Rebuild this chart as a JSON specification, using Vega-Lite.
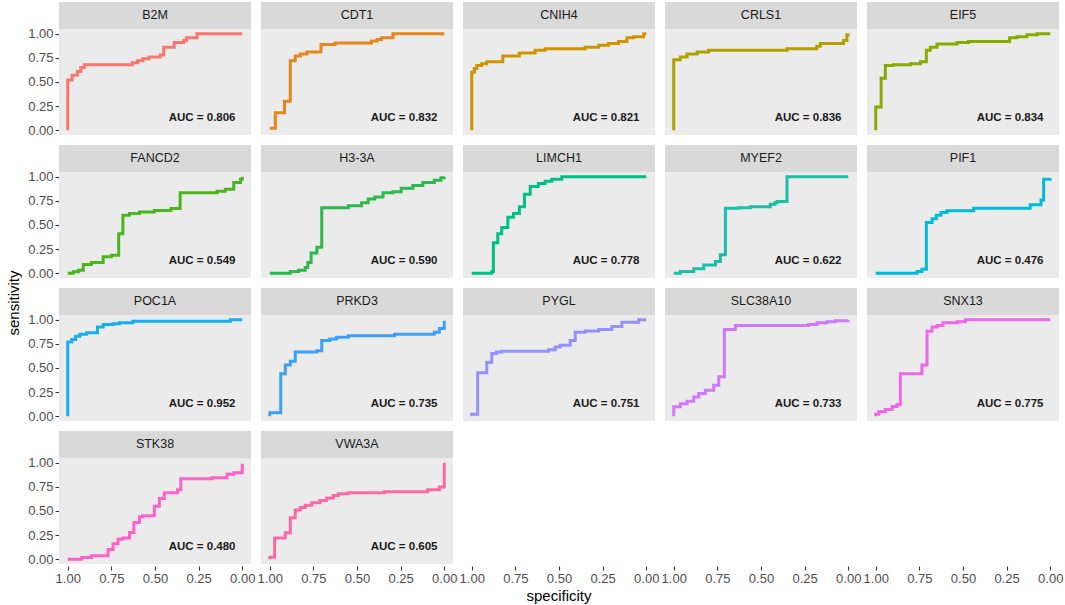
{
  "$schema": "https://vega.github.io/schema/vega-lite/v6.json",
  "background": "white",
  "padding": {"left": 6, "top": 2, "right": 4, "bottom": 2},
  "title": {"text": "sensitivity", "orient": "left", "anchor": "middle", "fontSize": 15, "fontWeight": "normal", "color": "black", "font": "Liberation Sans", "offset": 6},
  "data": {
    "values": [
      {"gene": "B2M", "auc": "AUC = 0.806"},
      {"gene": "CDT1", "auc": "AUC = 0.832"},
      {"gene": "CNIH4", "auc": "AUC = 0.821"},
      {"gene": "CRLS1", "auc": "AUC = 0.836"},
      {"gene": "EIF5", "auc": "AUC = 0.834"},
      {"gene": "FANCD2", "auc": "AUC = 0.549"},
      {"gene": "H3-3A", "auc": "AUC = 0.590"},
      {"gene": "LIMCH1", "auc": "AUC = 0.778"},
      {"gene": "MYEF2", "auc": "AUC = 0.622"},
      {"gene": "PIF1", "auc": "AUC = 0.476"},
      {"gene": "POC1A", "auc": "AUC = 0.952"},
      {"gene": "PRKD3", "auc": "AUC = 0.735"},
      {"gene": "PYGL", "auc": "AUC = 0.751"},
      {"gene": "SLC38A10", "auc": "AUC = 0.733"},
      {"gene": "SNX13", "auc": "AUC = 0.775"},
      {"gene": "STK38", "auc": "AUC = 0.480"},
      {"gene": "VWA3A", "auc": "AUC = 0.605"},

      {"gene": "B2M", "spec": 1, "sens": 0},
      {"gene": "B2M", "spec": 1, "sens": 0.52},
      {"gene": "B2M", "spec": 0.975, "sens": 0.57},
      {"gene": "B2M", "spec": 0.945, "sens": 0.61},
      {"gene": "B2M", "spec": 0.925, "sens": 0.65},
      {"gene": "B2M", "spec": 0.905, "sens": 0.68},
      {"gene": "B2M", "spec": 0.63, "sens": 0.70},
      {"gene": "B2M", "spec": 0.60, "sens": 0.72},
      {"gene": "B2M", "spec": 0.57, "sens": 0.74},
      {"gene": "B2M", "spec": 0.535, "sens": 0.76},
      {"gene": "B2M", "spec": 0.47, "sens": 0.78},
      {"gene": "B2M", "spec": 0.45, "sens": 0.86},
      {"gene": "B2M", "spec": 0.39, "sens": 0.91},
      {"gene": "B2M", "spec": 0.335, "sens": 0.93},
      {"gene": "B2M", "spec": 0.32, "sens": 0.96},
      {"gene": "B2M", "spec": 0.26, "sens": 1},
      {"gene": "B2M", "spec": 0, "sens": 1},

      {"gene": "CDT1", "spec": 1, "sens": 0.02},
      {"gene": "CDT1", "spec": 0.968, "sens": 0.18},
      {"gene": "CDT1", "spec": 0.915, "sens": 0.30},
      {"gene": "CDT1", "spec": 0.882, "sens": 0.72},
      {"gene": "CDT1", "spec": 0.854, "sens": 0.77},
      {"gene": "CDT1", "spec": 0.825, "sens": 0.79},
      {"gene": "CDT1", "spec": 0.787, "sens": 0.81},
      {"gene": "CDT1", "spec": 0.706, "sens": 0.89},
      {"gene": "CDT1", "spec": 0.626, "sens": 0.905},
      {"gene": "CDT1", "spec": 0.417, "sens": 0.925},
      {"gene": "CDT1", "spec": 0.385, "sens": 0.94},
      {"gene": "CDT1", "spec": 0.36, "sens": 0.96},
      {"gene": "CDT1", "spec": 0.294, "sens": 1},
      {"gene": "CDT1", "spec": 0, "sens": 1},

      {"gene": "CNIH4", "spec": 1, "sens": 0},
      {"gene": "CNIH4", "spec": 1, "sens": 0.60},
      {"gene": "CNIH4", "spec": 0.985, "sens": 0.64},
      {"gene": "CNIH4", "spec": 0.971, "sens": 0.67},
      {"gene": "CNIH4", "spec": 0.943, "sens": 0.69},
      {"gene": "CNIH4", "spec": 0.914, "sens": 0.71},
      {"gene": "CNIH4", "spec": 0.822, "sens": 0.77},
      {"gene": "CNIH4", "spec": 0.728, "sens": 0.80},
      {"gene": "CNIH4", "spec": 0.637, "sens": 0.83},
      {"gene": "CNIH4", "spec": 0.579, "sens": 0.845},
      {"gene": "CNIH4", "spec": 0.35, "sens": 0.86},
      {"gene": "CNIH4", "spec": 0.273, "sens": 0.88},
      {"gene": "CNIH4", "spec": 0.216, "sens": 0.90},
      {"gene": "CNIH4", "spec": 0.159, "sens": 0.92},
      {"gene": "CNIH4", "spec": 0.111, "sens": 0.96},
      {"gene": "CNIH4", "spec": 0.073, "sens": 0.97},
      {"gene": "CNIH4", "spec": 0.015, "sens": 1},
      {"gene": "CNIH4", "spec": 0, "sens": 1},

      {"gene": "CRLS1", "spec": 1, "sens": 0},
      {"gene": "CRLS1", "spec": 1, "sens": 0.73},
      {"gene": "CRLS1", "spec": 0.962, "sens": 0.76},
      {"gene": "CRLS1", "spec": 0.924, "sens": 0.79},
      {"gene": "CRLS1", "spec": 0.866, "sens": 0.81},
      {"gene": "CRLS1", "spec": 0.80, "sens": 0.83},
      {"gene": "CRLS1", "spec": 0.351, "sens": 0.845},
      {"gene": "CRLS1", "spec": 0.18, "sens": 0.87},
      {"gene": "CRLS1", "spec": 0.16, "sens": 0.90},
      {"gene": "CRLS1", "spec": 0.027, "sens": 0.93},
      {"gene": "CRLS1", "spec": 0.008, "sens": 0.99},
      {"gene": "CRLS1", "spec": 0, "sens": 1},

      {"gene": "EIF5", "spec": 1, "sens": 0},
      {"gene": "EIF5", "spec": 1, "sens": 0.24},
      {"gene": "EIF5", "spec": 0.969, "sens": 0.54},
      {"gene": "EIF5", "spec": 0.945, "sens": 0.67},
      {"gene": "EIF5", "spec": 0.90, "sens": 0.68},
      {"gene": "EIF5", "spec": 0.80, "sens": 0.69},
      {"gene": "EIF5", "spec": 0.744, "sens": 0.71},
      {"gene": "EIF5", "spec": 0.71, "sens": 0.83},
      {"gene": "EIF5", "spec": 0.687, "sens": 0.86},
      {"gene": "EIF5", "spec": 0.649, "sens": 0.895},
      {"gene": "EIF5", "spec": 0.534, "sens": 0.91},
      {"gene": "EIF5", "spec": 0.468, "sens": 0.92},
      {"gene": "EIF5", "spec": 0.233, "sens": 0.96},
      {"gene": "EIF5", "spec": 0.191, "sens": 0.97},
      {"gene": "EIF5", "spec": 0.134, "sens": 0.99},
      {"gene": "EIF5", "spec": 0.076, "sens": 1},
      {"gene": "EIF5", "spec": 0, "sens": 1},

      {"gene": "FANCD2", "spec": 1, "sens": 0},
      {"gene": "FANCD2", "spec": 0.968, "sens": 0.014},
      {"gene": "FANCD2", "spec": 0.939, "sens": 0.03},
      {"gene": "FANCD2", "spec": 0.911, "sens": 0.09},
      {"gene": "FANCD2", "spec": 0.864, "sens": 0.11},
      {"gene": "FANCD2", "spec": 0.797, "sens": 0.17},
      {"gene": "FANCD2", "spec": 0.75, "sens": 0.185},
      {"gene": "FANCD2", "spec": 0.708, "sens": 0.41},
      {"gene": "FANCD2", "spec": 0.684, "sens": 0.60},
      {"gene": "FANCD2", "spec": 0.646, "sens": 0.62},
      {"gene": "FANCD2", "spec": 0.589, "sens": 0.635},
      {"gene": "FANCD2", "spec": 0.504, "sens": 0.65},
      {"gene": "FANCD2", "spec": 0.409, "sens": 0.67},
      {"gene": "FANCD2", "spec": 0.356, "sens": 0.835},
      {"gene": "FANCD2", "spec": 0.144, "sens": 0.85},
      {"gene": "FANCD2", "spec": 0.097, "sens": 0.87},
      {"gene": "FANCD2", "spec": 0.049, "sens": 0.94},
      {"gene": "FANCD2", "spec": 0.01, "sens": 0.975},
      {"gene": "FANCD2", "spec": 0, "sens": 1},

      {"gene": "H3-3A", "spec": 1, "sens": 0},
      {"gene": "H3-3A", "spec": 0.882, "sens": 0.017},
      {"gene": "H3-3A", "spec": 0.835, "sens": 0.03},
      {"gene": "H3-3A", "spec": 0.797, "sens": 0.06},
      {"gene": "H3-3A", "spec": 0.782, "sens": 0.11},
      {"gene": "H3-3A", "spec": 0.763, "sens": 0.21},
      {"gene": "H3-3A", "spec": 0.73, "sens": 0.27},
      {"gene": "H3-3A", "spec": 0.702, "sens": 0.68},
      {"gene": "H3-3A", "spec": 0.55, "sens": 0.70},
      {"gene": "H3-3A", "spec": 0.474, "sens": 0.73},
      {"gene": "H3-3A", "spec": 0.436, "sens": 0.77},
      {"gene": "H3-3A", "spec": 0.398, "sens": 0.79},
      {"gene": "H3-3A", "spec": 0.351, "sens": 0.835},
      {"gene": "H3-3A", "spec": 0.294, "sens": 0.845},
      {"gene": "H3-3A", "spec": 0.247, "sens": 0.88},
      {"gene": "H3-3A", "spec": 0.18, "sens": 0.91},
      {"gene": "H3-3A", "spec": 0.123, "sens": 0.94},
      {"gene": "H3-3A", "spec": 0.057, "sens": 0.965},
      {"gene": "H3-3A", "spec": 0.019, "sens": 0.99},
      {"gene": "H3-3A", "spec": 0, "sens": 1},

      {"gene": "LIMCH1", "spec": 1, "sens": 0},
      {"gene": "LIMCH1", "spec": 0.885, "sens": 0.017},
      {"gene": "LIMCH1", "spec": 0.876, "sens": 0.315},
      {"gene": "LIMCH1", "spec": 0.851, "sens": 0.41},
      {"gene": "LIMCH1", "spec": 0.828, "sens": 0.475},
      {"gene": "LIMCH1", "spec": 0.793, "sens": 0.58},
      {"gene": "LIMCH1", "spec": 0.761, "sens": 0.62},
      {"gene": "LIMCH1", "spec": 0.727, "sens": 0.69},
      {"gene": "LIMCH1", "spec": 0.698, "sens": 0.82},
      {"gene": "LIMCH1", "spec": 0.665, "sens": 0.90},
      {"gene": "LIMCH1", "spec": 0.618, "sens": 0.93},
      {"gene": "LIMCH1", "spec": 0.579, "sens": 0.955},
      {"gene": "LIMCH1", "spec": 0.541, "sens": 0.975},
      {"gene": "LIMCH1", "spec": 0.484, "sens": 1},
      {"gene": "LIMCH1", "spec": 0, "sens": 1},

      {"gene": "MYEF2", "spec": 1, "sens": 0},
      {"gene": "MYEF2", "spec": 0.962, "sens": 0.017},
      {"gene": "MYEF2", "spec": 0.885, "sens": 0.045},
      {"gene": "MYEF2", "spec": 0.828, "sens": 0.085},
      {"gene": "MYEF2", "spec": 0.761, "sens": 0.12},
      {"gene": "MYEF2", "spec": 0.733, "sens": 0.19},
      {"gene": "MYEF2", "spec": 0.704, "sens": 0.675},
      {"gene": "MYEF2", "spec": 0.63, "sens": 0.68},
      {"gene": "MYEF2", "spec": 0.561, "sens": 0.69},
      {"gene": "MYEF2", "spec": 0.447, "sens": 0.715},
      {"gene": "MYEF2", "spec": 0.42, "sens": 0.73},
      {"gene": "MYEF2", "spec": 0.408, "sens": 0.745},
      {"gene": "MYEF2", "spec": 0.351, "sens": 1},
      {"gene": "MYEF2", "spec": 0, "sens": 1},

      {"gene": "PIF1", "spec": 1, "sens": 0},
      {"gene": "PIF1", "spec": 0.763, "sens": 0.017},
      {"gene": "PIF1", "spec": 0.735, "sens": 0.04},
      {"gene": "PIF1", "spec": 0.71, "sens": 0.527},
      {"gene": "PIF1", "spec": 0.677, "sens": 0.565},
      {"gene": "PIF1", "spec": 0.653, "sens": 0.60},
      {"gene": "PIF1", "spec": 0.626, "sens": 0.63},
      {"gene": "PIF1", "spec": 0.592, "sens": 0.647},
      {"gene": "PIF1", "spec": 0.439, "sens": 0.675},
      {"gene": "PIF1", "spec": 0.115, "sens": 0.71},
      {"gene": "PIF1", "spec": 0.053, "sens": 0.76},
      {"gene": "PIF1", "spec": 0.038, "sens": 0.975},
      {"gene": "PIF1", "spec": 0, "sens": 0.985},

      {"gene": "POC1A", "spec": 1, "sens": 0},
      {"gene": "POC1A", "spec": 1, "sens": 0.77},
      {"gene": "POC1A", "spec": 0.977, "sens": 0.795},
      {"gene": "POC1A", "spec": 0.955, "sens": 0.83},
      {"gene": "POC1A", "spec": 0.93, "sens": 0.85},
      {"gene": "POC1A", "spec": 0.892, "sens": 0.865},
      {"gene": "POC1A", "spec": 0.83, "sens": 0.925},
      {"gene": "POC1A", "spec": 0.797, "sens": 0.95},
      {"gene": "POC1A", "spec": 0.74, "sens": 0.96},
      {"gene": "POC1A", "spec": 0.703, "sens": 0.97},
      {"gene": "POC1A", "spec": 0.627, "sens": 0.985},
      {"gene": "POC1A", "spec": 0.068, "sens": 1},
      {"gene": "POC1A", "spec": 0, "sens": 1},

      {"gene": "PRKD3", "spec": 1, "sens": 0},
      {"gene": "PRKD3", "spec": 1, "sens": 0.035},
      {"gene": "PRKD3", "spec": 0.937, "sens": 0.44},
      {"gene": "PRKD3", "spec": 0.911, "sens": 0.53},
      {"gene": "PRKD3", "spec": 0.882, "sens": 0.57},
      {"gene": "PRKD3", "spec": 0.854, "sens": 0.665},
      {"gene": "PRKD3", "spec": 0.73, "sens": 0.68},
      {"gene": "PRKD3", "spec": 0.702, "sens": 0.785},
      {"gene": "PRKD3", "spec": 0.655, "sens": 0.80},
      {"gene": "PRKD3", "spec": 0.617, "sens": 0.82},
      {"gene": "PRKD3", "spec": 0.55, "sens": 0.835},
      {"gene": "PRKD3", "spec": 0.285, "sens": 0.85},
      {"gene": "PRKD3", "spec": 0.057, "sens": 0.87},
      {"gene": "PRKD3", "spec": 0.028, "sens": 0.91},
      {"gene": "PRKD3", "spec": 0, "sens": 0.99},

      {"gene": "PYGL", "spec": 1, "sens": 0},
      {"gene": "PYGL", "spec": 1, "sens": 0.02},
      {"gene": "PYGL", "spec": 0.966, "sens": 0.45},
      {"gene": "PYGL", "spec": 0.914, "sens": 0.56},
      {"gene": "PYGL", "spec": 0.885, "sens": 0.65},
      {"gene": "PYGL", "spec": 0.857, "sens": 0.665},
      {"gene": "PYGL", "spec": 0.828, "sens": 0.675},
      {"gene": "PYGL", "spec": 0.56, "sens": 0.69},
      {"gene": "PYGL", "spec": 0.522, "sens": 0.717},
      {"gene": "PYGL", "spec": 0.493, "sens": 0.735},
      {"gene": "PYGL", "spec": 0.436, "sens": 0.786},
      {"gene": "PYGL", "spec": 0.407, "sens": 0.87},
      {"gene": "PYGL", "spec": 0.35, "sens": 0.885},
      {"gene": "PYGL", "spec": 0.273, "sens": 0.90},
      {"gene": "PYGL", "spec": 0.197, "sens": 0.93},
      {"gene": "PYGL", "spec": 0.14, "sens": 0.975},
      {"gene": "PYGL", "spec": 0.044, "sens": 1},
      {"gene": "PYGL", "spec": 0, "sens": 1},

      {"gene": "SLC38A10", "spec": 1, "sens": 0},
      {"gene": "SLC38A10", "spec": 1, "sens": 0.097},
      {"gene": "SLC38A10", "spec": 0.962, "sens": 0.13},
      {"gene": "SLC38A10", "spec": 0.924, "sens": 0.155},
      {"gene": "SLC38A10", "spec": 0.885, "sens": 0.20},
      {"gene": "SLC38A10", "spec": 0.857, "sens": 0.235},
      {"gene": "SLC38A10", "spec": 0.819, "sens": 0.27},
      {"gene": "SLC38A10", "spec": 0.771, "sens": 0.32},
      {"gene": "SLC38A10", "spec": 0.742, "sens": 0.41},
      {"gene": "SLC38A10", "spec": 0.71, "sens": 0.90},
      {"gene": "SLC38A10", "spec": 0.647, "sens": 0.94},
      {"gene": "SLC38A10", "spec": 0.227, "sens": 0.95},
      {"gene": "SLC38A10", "spec": 0.179, "sens": 0.97},
      {"gene": "SLC38A10", "spec": 0.122, "sens": 0.98},
      {"gene": "SLC38A10", "spec": 0.074, "sens": 0.99},
      {"gene": "SLC38A10", "spec": 0, "sens": 0.995},

      {"gene": "SNX13", "spec": 1, "sens": 0},
      {"gene": "SNX13", "spec": 1, "sens": 0.02},
      {"gene": "SNX13", "spec": 0.983, "sens": 0.045},
      {"gene": "SNX13", "spec": 0.945, "sens": 0.07},
      {"gene": "SNX13", "spec": 0.906, "sens": 0.10},
      {"gene": "SNX13", "spec": 0.878, "sens": 0.12},
      {"gene": "SNX13", "spec": 0.859, "sens": 0.44},
      {"gene": "SNX13", "spec": 0.735, "sens": 0.53},
      {"gene": "SNX13", "spec": 0.706, "sens": 0.88},
      {"gene": "SNX13", "spec": 0.677, "sens": 0.925},
      {"gene": "SNX13", "spec": 0.649, "sens": 0.94},
      {"gene": "SNX13", "spec": 0.615, "sens": 0.97},
      {"gene": "SNX13", "spec": 0.534, "sens": 0.98},
      {"gene": "SNX13", "spec": 0.487, "sens": 1},
      {"gene": "SNX13", "spec": 0, "sens": 1},

      {"gene": "STK38", "spec": 1, "sens": 0},
      {"gene": "STK38", "spec": 0.92, "sens": 0.017},
      {"gene": "STK38", "spec": 0.864, "sens": 0.035},
      {"gene": "STK38", "spec": 0.769, "sens": 0.10},
      {"gene": "STK38", "spec": 0.74, "sens": 0.16},
      {"gene": "STK38", "spec": 0.712, "sens": 0.207},
      {"gene": "STK38", "spec": 0.684, "sens": 0.22},
      {"gene": "STK38", "spec": 0.646, "sens": 0.276},
      {"gene": "STK38", "spec": 0.621, "sens": 0.38},
      {"gene": "STK38", "spec": 0.589, "sens": 0.44},
      {"gene": "STK38", "spec": 0.57, "sens": 0.45},
      {"gene": "STK38", "spec": 0.504, "sens": 0.55},
      {"gene": "STK38", "spec": 0.475, "sens": 0.63},
      {"gene": "STK38", "spec": 0.447, "sens": 0.69},
      {"gene": "STK38", "spec": 0.371, "sens": 0.72},
      {"gene": "STK38", "spec": 0.352, "sens": 0.835},
      {"gene": "STK38", "spec": 0.172, "sens": 0.845},
      {"gene": "STK38", "spec": 0.087, "sens": 0.88},
      {"gene": "STK38", "spec": 0.049, "sens": 0.897},
      {"gene": "STK38", "spec": 0, "sens": 0.99},

      {"gene": "VWA3A", "spec": 1, "sens": 0},
      {"gene": "VWA3A", "spec": 1, "sens": 0.02},
      {"gene": "VWA3A", "spec": 0.972, "sens": 0.22},
      {"gene": "VWA3A", "spec": 0.911, "sens": 0.275},
      {"gene": "VWA3A", "spec": 0.882, "sens": 0.43},
      {"gene": "VWA3A", "spec": 0.854, "sens": 0.51},
      {"gene": "VWA3A", "spec": 0.825, "sens": 0.535},
      {"gene": "VWA3A", "spec": 0.797, "sens": 0.56},
      {"gene": "VWA3A", "spec": 0.759, "sens": 0.586},
      {"gene": "VWA3A", "spec": 0.712, "sens": 0.61},
      {"gene": "VWA3A", "spec": 0.674, "sens": 0.635},
      {"gene": "VWA3A", "spec": 0.636, "sens": 0.66},
      {"gene": "VWA3A", "spec": 0.607, "sens": 0.68},
      {"gene": "VWA3A", "spec": 0.55, "sens": 0.69},
      {"gene": "VWA3A", "spec": 0.342, "sens": 0.70},
      {"gene": "VWA3A", "spec": 0.095, "sens": 0.72},
      {"gene": "VWA3A", "spec": 0.028, "sens": 0.75},
      {"gene": "VWA3A", "spec": 0, "sens": 1}
    ]
  },
  "facet": {
    "field": "gene",
    "type": "nominal",
    "header": {"labels": false, "labelExpr": "''", "labelFontSize": 0, "labelPadding": 0, "title": "specificity", "titleOrient": "bottom", "titleFontSize": 15, "titleFontWeight": "normal", "titleColor": "black", "titleFont": "Liberation Sans", "titlePadding": 4}
  },
  "columns": 5,
  "spacing": {"row": 8, "column": 10},
  "spec": {
    "width": 192,
    "height": 133,
    "layer": [
      {
        "transform": [{"filter": "isValid(datum.auc)"}],
        "mark": {"type": "rect", "color": "#D9D9D9"},
        "encoding": {
          "x": {"datum": -0.05, "type": "quantitative"},
          "x2": {"datum": 1.05},
          "y": {"datum": 1.05, "type": "quantitative"},
          "y2": {"datum": 1.33}
        }
      },
      {
        "transform": [{"filter": "isValid(datum.auc)"}],
        "mark": {"type": "text", "fontSize": 12.5, "color": "#1A1A1A", "font": "Liberation Sans", "baseline": "middle"},
        "encoding": {
          "x": {"datum": 0.5, "type": "quantitative"},
          "y": {"datum": 1.19, "type": "quantitative"},
          "text": {"field": "gene"}
        }
      },
      {
        "transform": [{"filter": "isValid(datum.sens)"}],
        "mark": {"type": "line", "interpolate": "step-after", "strokeWidth": 3, "strokeJoin": "miter"},
        "encoding": {
          "x": {
            "field": "spec",
            "type": "quantitative",
            "scale": {"domain": [-0.05, 1.05], "reverse": true, "nice": false, "zero": false},
            "axis": {
              "title": null,
              "tickCount": 20,
              "labelOverlap": false,
              "values": [0, 0.125, 0.25, 0.375, 0.5, 0.625, 0.75, 0.875, 1],
              "labelExpr": "datum.value * 4 % 1 == 0 ? format(datum.value, '.2f') : ''",
              "labelFontSize": {"condition": {"test": "datum.value * 4 % 1 == 0", "value": 13}, "value": 0},
              "gridWidth": {"condition": {"test": "datum.value * 4 % 1 == 0", "value": 1.1}, "value": 0.55},
              "tickColor": {"condition": {"test": "datum.value * 4 % 1 == 0", "value": "#333333"}, "value": "rgba(0,0,0,0)"}
            }
          },
          "y": {
            "field": "sens",
            "type": "quantitative",
            "scale": {"domain": [-0.05, 1.33], "nice": false, "zero": false},
            "axis": {
              "title": null,
              "tickCount": 20,
              "labelOverlap": false,
              "values": [0, 0.125, 0.25, 0.375, 0.5, 0.625, 0.75, 0.875, 1],
              "labelExpr": "datum.value * 4 % 1 == 0 ? format(datum.value, '.2f') : ''",
              "labelFontSize": {"condition": {"test": "datum.value * 4 % 1 == 0", "value": 13}, "value": 0},
              "gridWidth": {"condition": {"test": "datum.value * 4 % 1 == 0", "value": 1.1}, "value": 0.55},
              "tickColor": {"condition": {"test": "datum.value * 4 % 1 == 0", "value": "#333333"}, "value": "rgba(0,0,0,0)"}
            }
          },
          "order": [{"field": "sens", "sort": "ascending"}, {"field": "spec", "sort": "descending"}],
          "color": {
            "field": "gene",
            "type": "nominal",
            "legend": null,
            "scale": {
              "domain": ["B2M", "CDT1", "CNIH4", "CRLS1", "EIF5", "FANCD2", "H3-3A", "LIMCH1", "MYEF2", "PIF1", "POC1A", "PRKD3", "PYGL", "SLC38A10", "SNX13", "STK38", "VWA3A"],
              "range": ["#F8766D", "#E7861B", "#D09400", "#B0A100", "#87AB00", "#4CB51E", "#2DB84A", "#00C087", "#1DBDAA", "#00BCD8", "#16AEEE", "#3CA0F5", "#9590FF", "#CF78FF", "#F066EA", "#FF61C8", "#FF67A4"]
            }
          }
        }
      },
      {
        "transform": [{"filter": "isValid(datum.auc)"}],
        "mark": {"type": "text", "fontSize": 11.5, "fontWeight": "bold", "color": "#1A1A1A", "font": "Liberation Sans", "align": "center", "baseline": "middle"},
        "encoding": {
          "x": {"datum": 0.23, "type": "quantitative"},
          "y": {"datum": 0.125, "type": "quantitative"},
          "text": {"field": "auc"}
        }
      }
    ]
  },
  "config": {
    "font": "Liberation Sans",
    "view": {"fill": "#EBEBEB", "stroke": null},
    "header": {"labels": false},
    "headerFacet": {"labels": false},
    "axis": {
      "domain": false,
      "gridColor": "white",
      "tickSize": 4,
      "tickWidth": 1.1,
      "labelColor": "#4D4D4D",
      "labelFontSize": 13,
      "labelPadding": 2,
      "labelOverlap": false,
      "labelBound": false,
      "labelFlush": false
    }
  }
}
